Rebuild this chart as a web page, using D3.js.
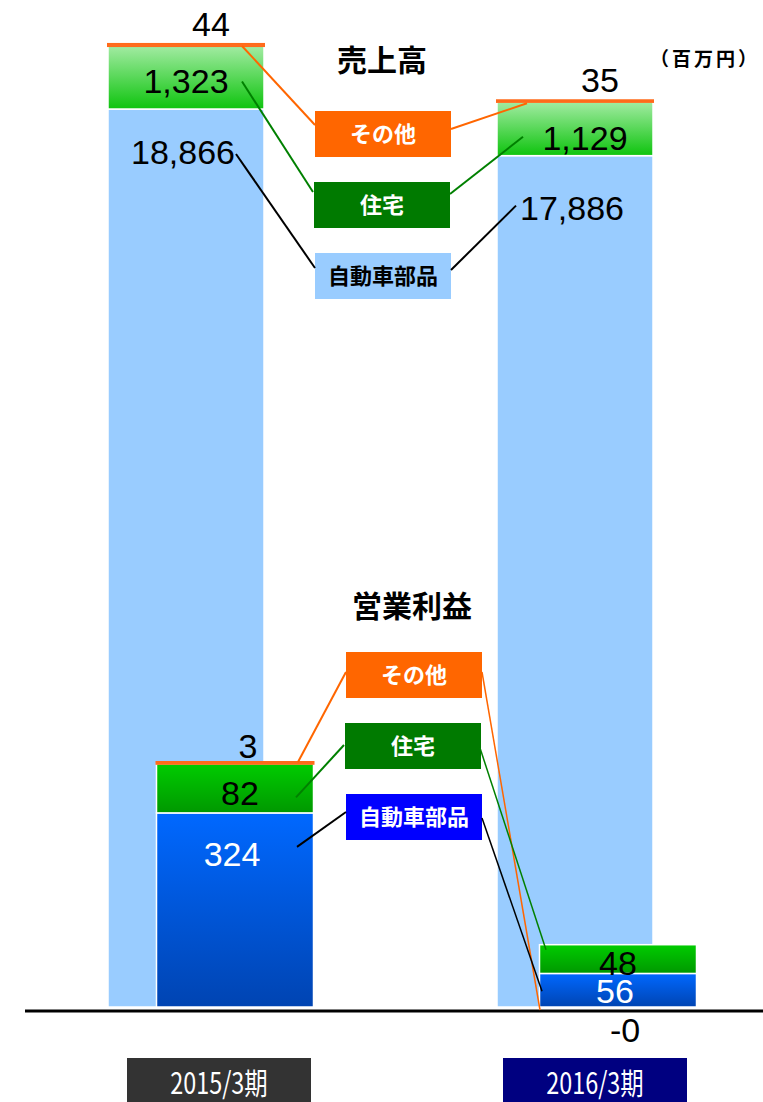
<!DOCTYPE html>
<html>
<head>
<meta charset="utf-8">
<script src="https://cdn.jsdelivr.net/npm/d3@7"></script>
<style>
  body { margin: 0; background: #fff; }
  svg { display: block; }
</style>
</head>
<body>
<div id="vis"></div>
<script>
// Data (百万円)
const periods = ["2015/3期", "2016/3期"];
const parts = ["自動車部品", "住宅", "その他"];
const salesAuto = [18866, 17886];
const salesHousing = [1323, 1129];
const salesOther = [44, 35];
const profitAuto = [324, 56];
const profitHousing = [82, 48];
const profitOther = [3, -0];
const salesLabels = [["18,866", "1,323", "44"], ["17,886", "1,129", "35"]];
const profitLabels = [["324", "82", "3"], ["56", "48", "-0"]];

const width = 763;
const height = 1102;
const base = 1007;

const svg = d3.select('#vis').append("svg")
    .attr("width", width)
    .attr("height", height);

const defs = svg.append("defs");
function grad(id, top, bottom) {
    const g = defs.append("linearGradient").attr("id", id)
        .attr("x1", 0).attr("y1", 0).attr("x2", 0).attr("y2", 1);
    g.append("stop").attr("offset", "0%").attr("stop-color", top);
    g.append("stop").attr("offset", "100%").attr("stop-color", bottom);
}
grad("sGreen", "#A2EBA2", "#0EC40E");
grad("pGreen", "#00CC00", "#009800");
grad("pBlue", "#0068FF", "#0044B2");
grad("oGrad", "#FF8C5A", "#FFB89A");

// scales
const xS = d3.scalePoint().domain(periods).range([186, 575]);   // sales bar centres
const xP = d3.scalePoint().domain(periods).range([235, 618]);   // profit bar centres
const xL = d3.scalePoint().domain(periods).range([219, 595]);   // period labels
const ySales = d3.scaleLinear().domain([0, 20316]).range([base, 40]);
const yProfit = d3.scaleLinear().domain([0, 409]).range([base, 762]);

function rows(a, h, o) {
    return periods.map((p, i) => ({period: p, "自動車部品": a[i], "住宅": h[i], "その他": o[i]}));
}
const stack = d3.stack().keys(parts);
const sStack = stack(rows(salesAuto, salesHousing, salesOther));
const pStack = stack(rows(profitAuto, profitHousing, profitOther));

const salesFill = {"自動車部品": "#99CCFF", "住宅": "url(#sGreen)", "その他": "url(#oGrad)"};
const profitFill = {"自動車部品": "url(#pBlue)", "住宅": "url(#pGreen)", "その他": "url(#oGrad)"};

function drawBars(series, x, y, fills, w, cls) {
    svg.append("g").attr("class", cls)
        .selectAll("g")
        .data(series)
        .join("g")
        .selectAll("rect")
        .data(s => s.map(d => ({key: s.key, d: d})))
        .join("rect")
        .attr("x", v => x(v.d.data.period) - w / 2)
        .attr("y", v => y(v.d[1]))
        .attr("width", w)
        .attr("height", v => Math.max(0, y(v.d[0]) - y(v.d[1])))
        .attr("fill", v => fills[v.key])
        .attr("stroke", v => v.key == "その他" ? "#FF6A1A" : "#fff")
        .attr("stroke-width", v => v.key == "その他" ? 2 : 1.5);
}

drawBars(sStack, xS, ySales, salesFill, 156, "sales");
drawBars(pStack, xP, yProfit, profitFill, 157, "profit");

// axis line
svg.append("line")
    .attr("x1", 25).attr("x2", width)
    .attr("y1", base + 4).attr("y2", base + 4)
    .attr("stroke", "#000").attr("stroke-width", 3);

// titles
svg.append("text").attr("x", 382).attr("y", 71)
    .attr("text-anchor", "middle")
    .style("font", "bold 30px 'Noto Sans CJK JP'")
    .text("売上高");
svg.append("text").attr("x", 412).attr("y", 617)
    .attr("text-anchor", "middle")
    .style("font", "bold 30px 'Noto Sans CJK JP'")
    .text("営業利益");
svg.append("text").attr("x", 705).attr("y", 66)
    .attr("text-anchor", "middle")
    .style("font", "bold 19px 'Noto Sans CJK JP'")
    .style("letter-spacing", "3px")
    .text("（百万円）");

// value labels
const numFont = "34px 'Liberation Sans', Arial, sans-serif";
function label(x, y, t, color) {
    svg.append("text").attr("x", x).attr("y", y)
        .attr("text-anchor", "middle")
        .attr("dy", "0.36em")
        .attr("fill", color || "#000")
        .style("font", numFont)
        .text(t);
}
periods.forEach((p, i) => {
    const s = sStack.map(l => l[i]);
    const shift = i == 0 ? 0 : 11;
    label(xS(p) - 3, ySales(s[0][1]) + 43 + shift / 2 + (i == 0 ? 0 : 4), salesLabels[i][0]);
    label(xS(p) + (i == 0 ? 0 : 10), (ySales(s[1][0]) + ySales(s[1][1])) / 2 + 3 + shift / 2, salesLabels[i][1]);
    label(xS(p) + 25, ySales(s[2][1]) - 20, salesLabels[i][2]);

    const q = pStack.map(l => l[i]);
    label(xP(p) - 3, i == 0 ? yProfit(q[0][1]) + 41 : (yProfit(q[0][0]) + yProfit(q[0][1])) / 2 + 1, profitLabels[i][0], "#fff");
    label(xP(p) + (i == 0 ? 5 : 0), (yProfit(q[1][0]) + yProfit(q[1][1])) / 2 + 4, profitLabels[i][1]);
    if (i == 0) label(xP(p) + 13, yProfit(q[2][1]) - 16, profitLabels[i][2]);
    else label(xP(p) + 7, yProfit(0) + 23, profitLabels[i][2]);
});

// legend boxes
const boxStyle = {
    sales: {"その他": ["#FF6600", "#fff"], "住宅": ["#007A00", "#fff"], "自動車部品": ["#99CCFF", "#000"]},
    profit: {"その他": ["#FF6600", "#fff"], "住宅": ["#007A00", "#fff"], "自動車部品": ["#0000FF", "#fff"]}
};
const legendOrder = ["その他", "住宅", "自動車部品"];
function legend(kind, x0, y0) {
    const g = svg.append("g");
    const item = g.selectAll("g").data(legendOrder).join("g")
        .attr("transform", (d, i) => `translate(${x0 + (d == "住宅" ? -1 : 0)},${y0 + i * 71})`);
    item.append("rect").attr("width", 136).attr("height", 46)
        .attr("fill", d => boxStyle[kind][d][0]);
    item.append("text").attr("x", 68).attr("y", 23).attr("dy", "0.36em")
        .attr("text-anchor", "middle")
        .attr("fill", d => boxStyle[kind][d][1])
        .style("font", "bold 22px 'Noto Sans CJK JP'")
        .text(d => d);
}
legend("sales", 315, 111);
legend("profit", 346, 652);

// connector lines
function conn(x1, y1, x2, y2, color, w) {
    svg.append("line").attr("x1", x1).attr("y1", y1).attr("x2", x2).attr("y2", y2)
        .attr("stroke", color).attr("stroke-width", w);
}
const lc = {"その他": "#FF6600", "住宅": "#008000", "自動車部品": "#000"};
const s0 = sStack.map(l => l[0]), s1 = sStack.map(l => l[1]);
const p0 = pStack.map(l => l[0]), p1 = pStack.map(l => l[1]);
const [a, b] = periods;
// sales 2015
conn(xS(a) + 56, ySales(s0[2][1]) + 2, 315, 125, lc["その他"], 2);
conn(xS(a) + 56, (ySales(s0[1][0]) + ySales(s0[1][1])) / 2 + 4, 313, 192, lc["住宅"], 2);
conn(xS(a) + 50, ySales(s0[0][1]) + 45, 315, 268, lc["自動車部品"], 2);
// sales 2016
conn(451, 129, xS(b) - 48, ySales(s1[2][1]) + 3, lc["その他"], 2);
conn(450, 194, xS(b) - 52, (ySales(s1[1][0]) + ySales(s1[1][1])) / 2 + 8, lc["住宅"], 2);
conn(451, 270, xS(b) - 59, ySales(s1[0][1]) + 50, lc["自動車部品"], 2);
// profit 2015
conn(xP(a) + 63, yProfit(p0[2][1]), 346, 672, lc["その他"], 2);
conn(xP(a) + 61, (yProfit(p0[1][0]) + yProfit(p0[1][1])) / 2 + 9, 344, 745, lc["住宅"], 2);
conn(xP(a) + 62, yProfit(p0[0][1]) + 34, 346, 812, lc["自動車部品"], 2);
// profit 2016
conn(482, 672, xP(b) - 78, yProfit(0) + 3, lc["その他"], 1.5);
conn(480, 748, xP(b) - 72, yProfit(p1[1][1]) + 5, lc["住宅"], 1.5);
conn(482, 818, xP(b) - 76, (yProfit(p1[0][0]) + yProfit(p1[0][1])) / 2 + 1, lc["自動車部品"], 1.5);

// period labels
const periodFill = ["#333333", "#000080"];
const pl = svg.append("g").selectAll("g").data(periods).join("g")
    .attr("transform", d => `translate(${xL(d)},1080)`);
pl.append("rect").attr("x", -92).attr("y", -22).attr("width", 184).attr("height", 48)
    .attr("fill", (d, i) => periodFill[i]);
pl.append("text")
    .attr("transform", "scale(0.78,1)")
    .attr("text-anchor", "middle")
    .attr("dy", "0.36em")
    .attr("y", 3)
    .attr("fill", "#fff")
    .style("font", "30px 'Noto Sans CJK JP'")
    .text(d => d);
</script>
</body>
</html>
